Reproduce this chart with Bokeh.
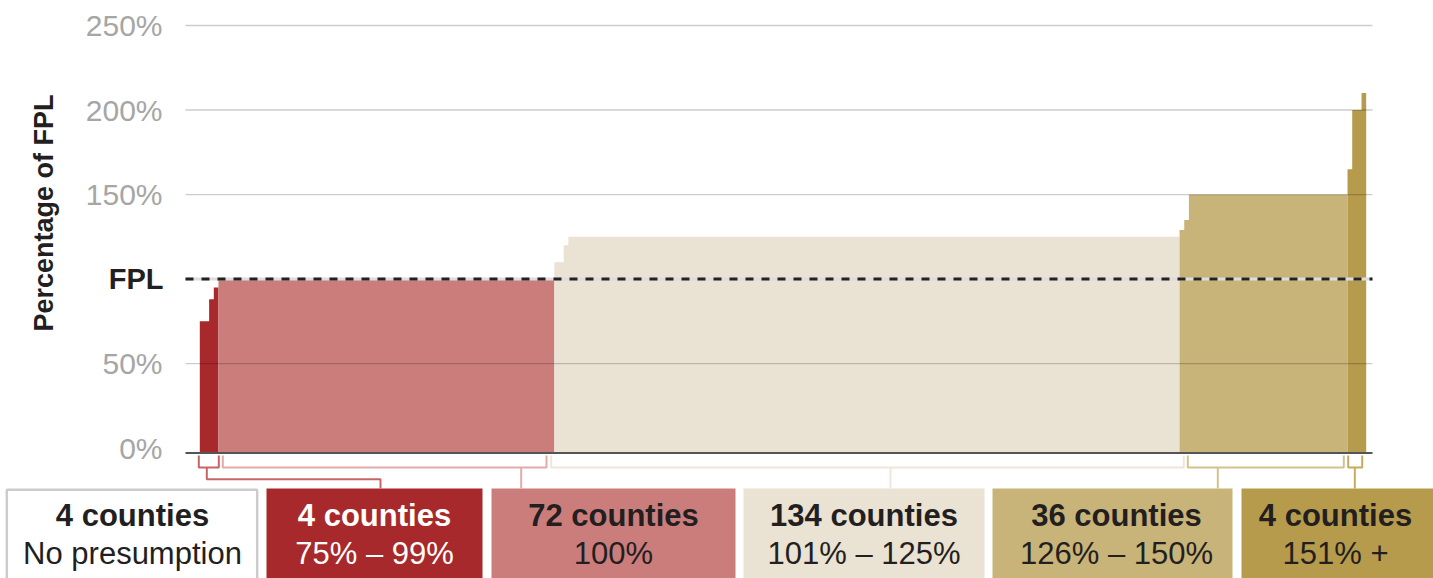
from math import pi
from bokeh.plotting import figure
from bokeh.models import Range1d
from bokeh.core.properties import value
from bokeh.embed import file_html
from bokeh.resources import INLINE

# ---------------- DATA ----------------
# counties sorted by presumptive eligibility level (% of FPL); each step = (value, number of counties)
no_presumption_count = 4
below_fpl_values = [75, 88, 95]
below_fpl_counts = [2, 1, 1]
at_fpl_values = [100]
at_fpl_counts = [72]
mid_values = [110, 120, 125]
mid_counts = [2, 1, 131]
high_values = [129, 135, 150]
high_counts = [1, 1, 34]
top_values = [165, 200, 210]
top_counts = [1, 2, 1]

range_labels = ["No presumption", "75% – 99%", "100%", "101% – 125%", "126% – 150%", "151% +"]
y_ticks = [0, 50, 150, 200, 250]
fpl_level = 100
fpl_label = "FPL"
y_title = "Percentage of FPL"

# ---------------- STYLE / LAYOUT ----------------
FONT = "Liberation Sans"
colors = ["#FFFFFF", "#A8292B", "#CB7D7C", "#EAE2D2", "#C8B478", "#B69B4C"]
bracket_colors = [None, "#C76566", "#E3AAAA", "#EEE6D9", "#D3C28E", "#C6AB5E"]
text_colors = ["#231F20", "#FFFFFF", "#231F20", "#231F20", "#231F20", "#231F20"]
W, H = 1433, 578

# canvas-pixel -> data helpers (for layout of annotations only)
K = 4.6656          # px per county
PX_AT4 = 199.3      # canvas x of county boundary 4
PY0, SY = 447.6, 1.6904   # canvas y of 0%, px per %


def X(px):
    return 4 + (px - PX_AT4) / K


def Y(py):
    return (PY0 - py) / SY


BASE = Y(452.7)
FRAME_L, FRAME_R = X(185), X(1372)

p = figure(width=W, height=H, output_backend="svg", toolbar_location=None,
           x_range=Range1d(X(0), X(W)), y_range=Range1d(Y(H), Y(0)),
           x_axis_type=None, y_axis_type=None,
           min_border_left=0, min_border_right=0, min_border_top=0, min_border_bottom=0)
p.outline_line_color = None
p.xgrid.visible = False
p.ygrid.visible = False
p.background_fill_color = "white"

# ---------------- bars (step outlines per group) ----------------
groups = [
    ([], []),
    (below_fpl_values, below_fpl_counts),
    (at_fpl_values, at_fpl_counts),
    (mid_values, mid_counts),
    (high_values, high_counts),
    (top_values, top_counts),
]
group_counts = [no_presumption_count] + [sum(c) for _, c in groups[1:]]

xs, ys, fills = [], [], []
start = no_presumption_count
for gi in range(1, len(groups)):
    vals, cnts = groups[gi]
    x = [start]
    y = [BASE]
    c = start
    for v, n in zip(vals, cnts):
        x += [c, c + n]
        y += [v, v]
        c += n
    x.append(c)
    y.append(BASE)
    xs.append(x)
    ys.append(y)
    fills.append(colors[gi])
    start = c
p.patches(xs, ys, fill_color=fills, line_color=None)

# ---------------- grid, reference lines ----------------
grid_ticks = [t for t in y_ticks if t > 0]
p.segment(x0=[FRAME_L] * len(grid_ticks), x1=[FRAME_R] * len(grid_ticks),
          y0=grid_ticks, y1=grid_ticks, line_color="black", line_alpha=0.2, line_width=1.3)
p.segment(x0=[FRAME_L], x1=[FRAME_R], y0=[fpl_level], y1=[fpl_level],
          line_color="#DDDDDD", line_width=3)
p.segment(x0=[FRAME_L], x1=[FRAME_R], y0=[fpl_level], y1=[fpl_level],
          line_color="#222222", line_width=3, line_dash="8 8")
p.segment(x0=[FRAME_L], x1=[FRAME_R], y0=[BASE + 0.1], y1=[BASE + 0.1],
          line_color="#555555", line_width=2)

# ---------------- y axis labels ----------------
p.text(x=[X(162)] * len(y_ticks), y=y_ticks, text=[f"{t}%" for t in y_ticks],
       text_font=value(FONT), text_font_size="30px", text_color="#A6A6A6",
       text_align="right", text_baseline="middle")
p.text(x=[X(163)], y=[fpl_level], text=[fpl_label],
       text_font=value(FONT), text_font_style="bold", text_font_size="29px",
       text_color="#231F20", text_align="right", text_baseline="middle")
p.text(x=[X(43)], y=[Y(212.5)], text=[y_title], angle=pi / 2,
       text_font=value(FONT), text_font_style="bold", text_font_size="27px",
       text_color="#231F20", text_align="center", text_baseline="middle")

# ---------------- legend boxes ----------------
box_left = [6.3, 266, 491, 743, 992, 1241]
box_right = [256.7, 482, 735, 984, 1232, 1445]
box_top = 488
p.quad(left=[X(box_left[0])], right=[X(box_right[0])], top=[Y(box_top + 1.2)], bottom=[Y(600)],
       fill_color="white", line_color="#CCCCCC", line_width=2.5)
p.quad(left=[X(v) for v in box_left[1:]], right=[X(v) for v in box_right[1:]],
       top=[Y(box_top)] * 5, bottom=[Y(600)] * 5, fill_color=colors[1:], line_color=None)

centers = [132, 374, 613, 863.5, 1116, 1335]
p.text(x=[X(c) for c in centers], y=[Y(515)] * 6, text=[f"{n} counties" for n in group_counts],
       text_font=value(FONT), text_font_style="bold", text_font_size="31px",
       text_align="center", text_baseline="middle", text_color=text_colors)
p.text(x=[X(c) for c in centers], y=[Y(553)] * 6, text=range_labels,
       text_font=value(FONT), text_font_size="31px",
       text_align="center", text_baseline="middle", text_color=text_colors)

# ---------------- brackets (canvas px layout) ----------------
brackets = [
    (198.3, 218.3, 206.3, 380.0),
    (222.3, 546.0, 520.7, None),
    (550.7, 1183.3, 890.0, None),
    (1187.3, 1343.3, 1217.3, None),
    (1347.7, 1361.7, 1354.3, None),
]
tick_top, bar_y, elbow_y = 455, 467, 478.7
for gi, (l, r, s, e) in enumerate(brackets, start=1):
    col = bracket_colors[gi]
    p.line([X(l), X(l), X(r), X(r)], [Y(tick_top), Y(bar_y), Y(bar_y), Y(tick_top)],
           line_color=col, line_width=2)
    if e is None:
        p.line([X(s), X(s)], [Y(bar_y), Y(box_top)], line_color=col, line_width=2)
    else:
        p.line([X(s), X(s), X(e), X(e)], [Y(bar_y), Y(elbow_y), Y(elbow_y), Y(box_top)],
               line_color=col, line_width=2)

open("out.html", "w").write(file_html(p, INLINE))
